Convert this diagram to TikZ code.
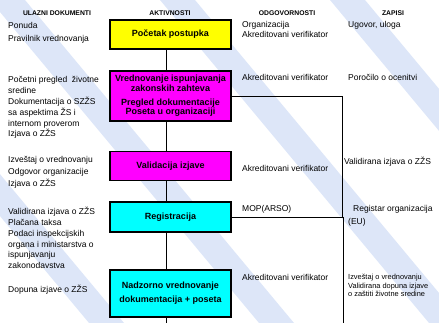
\documentclass[tikz,border=0pt]{standalone}
\usepackage{fontspec}
\setmainfont{Liberation Sans}
\usetikzlibrary{calc}

\definecolor{stripeblue}{RGB}{221,230,248}
\definecolor{boxyellow}{RGB}{255,255,0}
\definecolor{boxmagenta}{RGB}{255,0,255}
\definecolor{boxcyan}{RGB}{0,255,255}
\newcommand\textlines[1]{\begin{tabular}[t]{@{}l@{}}#1\end{tabular}}

\begin{document}
\begin{tikzpicture}[x=1pt,y=-1pt,
        actbox/.style={shape=rectangle, draw, line width=1.3pt, fill=#1,
        minimum width=121pt, inner sep=0pt, align=center,
        font=\bfseries\fontsize{9}{9.6}\selectfont},
        actbox/.default=boxyellow,
        head/.style={anchor=base, font=\bfseries\fontsize{6.8}{8}\selectfont},
        txt/.style={anchor=base west, inner sep=0pt,
        font=\fontsize{8.5}{10.8}\selectfont},
        smalltxt/.style={txt, font=\fontsize{7.4}{8.6}\selectfont},
        link/.style={line width=0.8pt},
        stripe/.style={fill=stripeblue}]
      \useasboundingbox (0,0) rectangle (439,323);
      % background stripes
      \begin{scope}
        \clip (0,0) rectangle (439,323);
        \foreach \c in {-180,-10,160,330}
          \fill[stripe] (\c,0) -- ++(35,0) -- ++(269,323) -- ++(-35,0) -- cycle;
      \end{scope}
      \coordinate (bot) at (0,323);
      \coordinate (colR) at (342,0);
      % column heads
      \node[head,name=hIn]   at (57,16)  {ULAZNI DOKUMENTI};
      \node[head,name=hAct]  at (170,16) {AKTIVNOSTI};
      \node[head,name=hResp] at (287,16) {ODGOVORNOSTI};
      \node[head,name=hRec]  at (393,16) {ZAPISI};
      % activities
      \node[actbox=boxyellow,name=start,minimum height=29pt] at (170.5,34.5)
        {Početak postupka};
      \node[actbox=boxmagenta,name=vred,minimum height=50pt] at (170.5,96)
        {Vrednovanje ispunjavanja\\zakonskih zahteva\\[4pt]
         Pregled dokumentacije\\Poseta u organizaciji};
      \node[actbox=boxmagenta,name=valid,minimum height=28.5pt] at (170.5,166)
        {Validacija izjave};
      \node[actbox=boxcyan,name=reg,minimum height=30pt] at (170.5,217)
        {Registracija};
      \node[actbox=boxcyan,name=nadz,minimum height=47pt] at (170.5,293.5)
        {Nadzorno vrednovanje\\[4.5pt]dokumentacija + poseta};
      \draw[link] ([xshift=-4.5pt]start.south) -- ([xshift=-4.5pt]vred.north);
      \draw[link] ([xshift=-4.5pt]vred.south)  -- ([xshift=-4.5pt]valid.north);
      \draw[link] ([xshift=-4.5pt]valid.south) -- ([xshift=-4.5pt]reg.north);
      \draw[link] ([xshift=-4.5pt]reg.south)   -- ([xshift=-4.5pt]nadz.north);
      \draw[link] ([xshift=-4.5pt]nadz.south)  -- ([xshift=-4.5pt]nadz.south |- bot);
      \draw[link] (vred.east) -| (colR |- reg.east) -- (reg.east);
      \draw[link] ([xshift=1pt]colR |- reg.east) -- ([xshift=1pt]colR |- bot);
      % input documents
      \node[txt,name=in1] at (8,29) {\textlines{Ponuda\\[2.2pt]Pravilnik vrednovanja}};
      \node[txt,name=in2] at (8,83) {\textlines{Početni pregled\ \ životne\\sredine\\
        Dokumentacija o SZŽS\\sa aspektima ŽS i\\internom proverom\\Izjava o ZŽS}};
      \node[txt,name=in3] at (8,163) {\textlines{Izveštaj o vrednovanju\\[1.2pt]
        Odgovor organizacije\\[1.2pt]Izjava o ZŽS}};
      \node[txt,name=in4] at (8,214.7) {\textlines{Validirana izjava o ZŽS\\Plačana taksa\\
        Podaci inspekcijskih\\organa i ministarstva o\\ispunjavanju\\zakonodavstva}};
      \node[txt,name=in5] at (8,292) {Dopuna izjave o ZŽS};
      % responsibilities
      \node[txt,name=resp1] at (242,28) {\textlines{Organizacija\\[-0.8pt]Akreditovani verifikator}};
      \node[txt,name=resp2] at (242,81) {Akreditovani verifikator};
      \node[txt,name=resp3] at (242,172) {Akreditovani verifikator};
      \node[txt,name=resp4] at (242,211.5) {MOP(ARSO)};
      \node[txt,name=resp5] at (242,280) {Akreditovani verifikator};
      % records
      \node[txt,name=rec1] at (348,28) {Ugovor, uloga};
      \node[txt,name=rec2] at (348,81) {Poročilo o ocenitvi};
      \node[txt,name=rec3] at (344,165) {Validirana izjava o ZŽS};
      \node[txt,name=rec4] at (348,212) {\textlines{\hspace*{5pt}Registar organizacija\\[2.2pt](EU)}};
      \node[smalltxt,name=rec5] at (348,279.5) {\textlines{Izveštaj o vrednovanju\\
        Validirana dopuna izjave\\o zaštiti životne sredine}};
    \end{tikzpicture}
\end{document}
